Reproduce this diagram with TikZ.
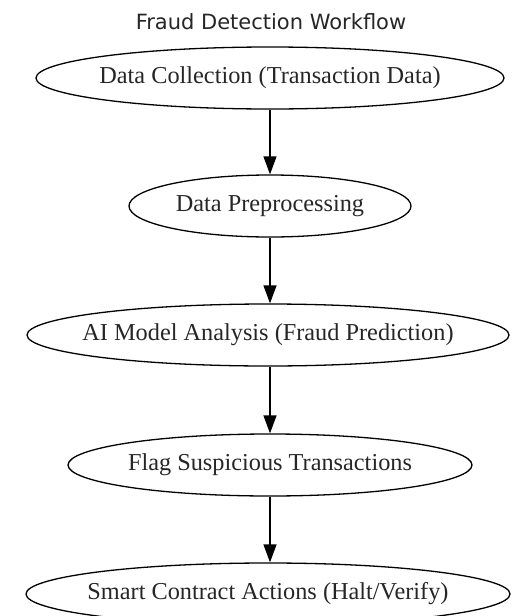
\documentclass[tikz,border=0pt]{standalone}
\usepackage{fontspec}
\setmainfont{Liberation Serif}
\newfontfamily\titlefont{DejaVu Sans}
\usetikzlibrary{shapes.geometric,arrows.meta}
\newcommand\nowidth[1]{\makebox[0pt]{#1}}
\begin{document}
\begin{tikzpicture}[x=1pt,y=-1pt,
  stage/.style={ellipse,draw=black,line width=1.3pt,inner sep=0pt,minimum height=62pt,font=\fontsize{24.3}{28}\selectfont,text=black!85},
  flow/.style={draw=black,line width=1.3pt,-{Triangle[length=18pt,width=13pt]}}]
\useasboundingbox (0,0) rectangle (523,616);
\node[font=\titlefont\fontsize{21}{24}\selectfont,text=black!85] (title) at (271,22) {Fraud Detection Workflow};
\node[stage,minimum width=468pt] (a) at (270,78) {\nowidth{Data Collection (Transaction Data)}};
\node[stage,minimum width=282pt] (b) at (270,206) {\nowidth{Data Preprocessing}};
\node[stage,minimum width=482pt] (c) at (268,335) {\nowidth{AI Model Analysis (Fraud Prediction)}};
\node[stage,minimum width=404pt] (d) at (270,465) {\nowidth{Flag Suspicious Transactions}};
\node[stage,minimum width=484pt] (e) at (268,594) {\nowidth{Smart Contract Actions (Halt/Verify)}};
\draw[flow] (a.south) -- (b.north);
\draw[flow] (b.south) -- (c.north -| b.south);
\draw[flow] (c.south -| b.south) -- (d.north);
\draw[flow] (d.south) -- (e.north -| d.south);
\end{tikzpicture}
\end{document}
